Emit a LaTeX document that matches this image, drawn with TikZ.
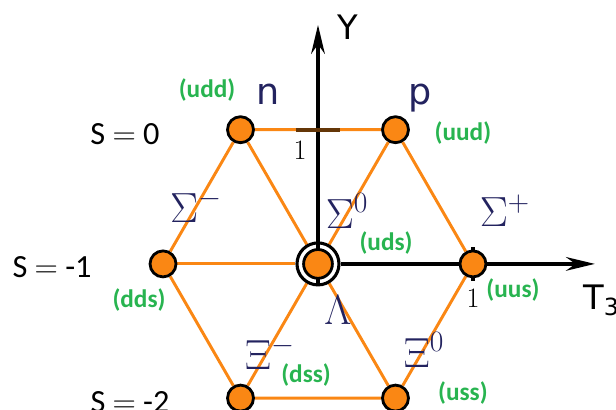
\RequirePackage{fix-cm}
\documentclass[tikz,border=0pt]{standalone}
\usepackage{fontspec}
\setmainfont{Carlito}
\newfontfamily\axisfont{DejaVu Sans}
\usetikzlibrary{arrows.meta,backgrounds}
\definecolor{hexorange}{RGB}{250,135,20}
\definecolor{quarkgreen}{RGB}{40,180,80}
\definecolor{greeknavy}{RGB}{35,35,95}

\begin{document}
\begin{tikzpicture}[x=3.875cm, y=3.875cm]
  \tikzstyle{baryon} = [circle, draw=black, line width=2pt, fill=hexorange, minimum size=0.65cm, inner sep=0pt]
  \tikzstyle{lamring} = [circle, draw=black, line width=2.2pt, fill=white, minimum size=1.05cm, inner sep=0pt]
  \tikzstyle{hexedge} = [draw=hexorange, line width=2.1pt]
  \tikzstyle{axisline} = [draw=black, line width=2.8pt, -{Stealth[length=0.72cm, width=0.34cm]}]
  \tikzstyle{quarks} = [text=quarkgreen, font=\fontsize{18}{20}\selectfont\bfseries]
  \tikzstyle{greek} = [text=greeknavy, font=\fontsize{30}{34}\selectfont]
  \tikzstyle{strange} = [font=\fontsize{23}{26}\selectfont]
  \tikzstyle{partname} = [text=greeknavy, font=\axisfont\fontsize{26}{30}\selectfont, anchor=base]
  \tikzstyle{tickone} = [font=\fontsize{20}{24}\selectfont]

  \useasboundingbox (-2.052,-0.942) rectangle (1.923,1.703);

  % axes through the centre
  \node[lamring] (ring) at (0,0) {};
  \coordinate (ytip) at (0,1.542);
  \coordinate (ttip) at (1.787,0);
  \draw[axisline] (ring.south) -- (ytip);
  \draw[axisline] (ring.east) -- (ttip);
  \draw[line width=2.8pt, draw=hexorange!40!black] (-0.142,0.866) -- (0.142,0.866);
  \draw[line width=2.8pt] (1,-0.11) -- (1,0.11);
  \node[baryon, minimum size=0.72cm] (lam) at (0,0) {};

  % baryon octet
  \node[baryon] (n) at (-0.5,0.866) {};
  \node[baryon] (p) at (0.5,0.866) {};
  \node[baryon] (sm) at (-1,0) {};
  \node[baryon] (sp) at (1,0) {};
  \node[baryon] (xm) at (-0.5,-0.866) {};
  \node[baryon] (xz) at (0.5,-0.866) {};

  \begin{scope}[on background layer]
    \draw[hexedge] (n) -- (p) -- (sp) -- (xz) -- (xm) -- (sm) -- (n);
    \draw[hexedge] (ring) -- (n);
    \draw[hexedge] (ring) -- (p);
    \draw[hexedge] (ring) -- (sm);
    \draw[hexedge] (ring) -- (sp);
    \draw[hexedge] (ring) -- (xm);
    \draw[hexedge] (ring) -- (xz);
  \end{scope}

  % axis labels
  \node[font=\axisfont\fontsize{24}{28}\selectfont] (ylab) at (0.194,1.529) {Y};
  \node[font=\axisfont\fontsize{24}{28}\selectfont, anchor=base west, inner sep=0pt] (tlab) at (1.710,-0.297) {T\textsubscript{3}};
  \node[tickone] (yone) at (-0.116,0.735) {$1$};
  \node[tickone] (tone) at (1.0,-0.222) {$1$};

  % particle names
  \node[partname] (nlab) at (-0.323,1.026) {n};
  \node[partname] (plab) at (0.658,1.026) {p};
  \node[greek] (smlab) at (-0.787,0.374) {$\Sigma^-$};
  \node[greek] (szlab) at (0.187,0.342) {$\Sigma^0$};
  \node[greek] (splab) at (1.206,0.342) {$\Sigma^+$};
  \node[greek] (lamlab) at (0.129,-0.297) {$\Lambda$};
  \node[greek] (xmlab) at (-0.31,-0.574) {$\Xi^-$};
  \node[greek] (xzlab) at (0.684,-0.555) {$\Xi^0$};

  % quark content
  \node[quarks] (udd) at (-0.716,1.123) {(udd)};
  \node[quarks] (uud) at (0.935,0.845) {(uud)};
  \node[quarks] (uds) at (0.439,0.135) {(uds)};
  \node[quarks] (dds) at (-1.155,-0.232) {(dds)};
  \node[quarks] (uus) at (1.258,-0.168) {(uus)};
  \node[quarks] (dss) at (-0.077,-0.716) {(dss)};
  \node[quarks] (uss) at (0.935,-0.832) {(uss)};

  % strangeness
  \node[strange] (s0) at (-1.245,0.839) {S $=$ 0};
  \node[strange] (s1) at (-1.716,-0.019) {S $=$ -1};
  \node[strange] (s2) at (-1.213,-0.89) {S $=$ -2};
\end{tikzpicture}
\end{document}
